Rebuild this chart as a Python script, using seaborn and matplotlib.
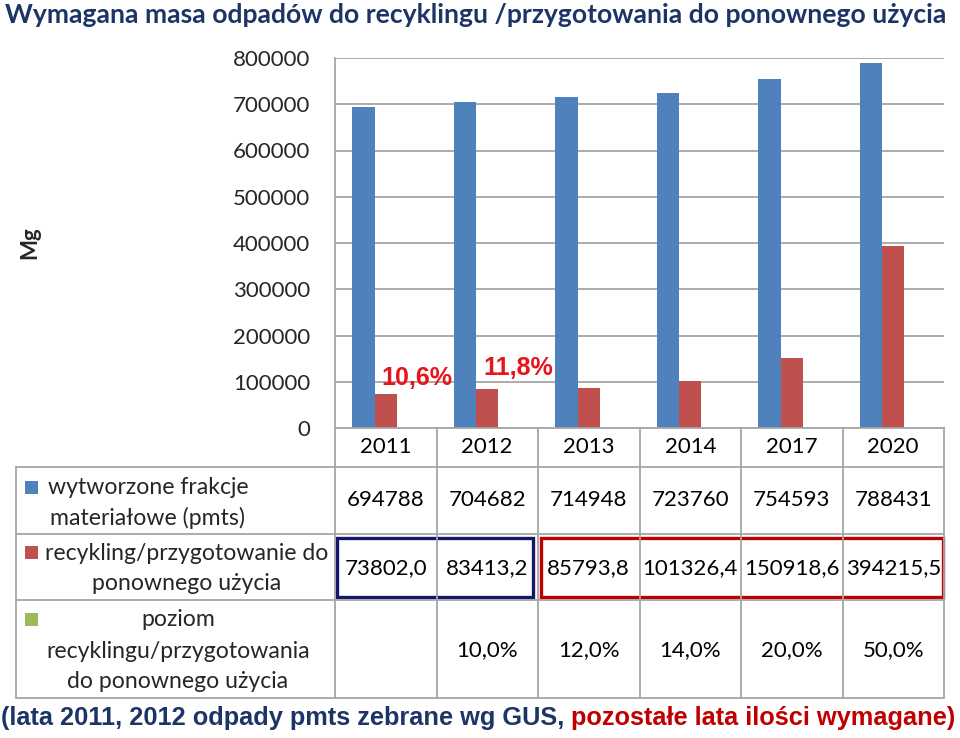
import matplotlib
matplotlib.use('Agg')
import matplotlib.pyplot as plt
import matplotlib.transforms as mtransforms
from matplotlib.lines import Line2D
from matplotlib.patches import Rectangle
import seaborn as sns
import pandas as pd
import numpy as np

# ---------------- data ----------------
years = ['2011', '2012', '2013', '2014', '2017', '2020']
pmts = [694788, 704682, 714948, 723760, 754593, 788431]
recykling = [73802.0, 83413.2, 85793.8, 101326.4, 150918.6, 394215.5]
poziom = [np.nan, 0.10, 0.12, 0.14, 0.20, 0.50]
series_names = ['wytworzone frakcje materiałowe (pmts)',
                'recykling/przygotowanie do ponownego użycia',
                'poziom recyklingu/przygotowania do ponownego użycia']
legend_lines = [['wytworzone frakcje', 'materiałowe (pmts)'],
                ['recykling/przygotowanie do', 'ponownego użycia'],
                ['poziom', 'recyklingu/przygotowania', 'do ponownego użycia']]
yticks = [0, 100000, 200000, 300000, 400000, 500000, 600000, 700000, 800000]
title = 'Wymagana masa odpadów do recyklingu /przygotowania do ponownego użycia'
ylabel = 'Mg'
footer_a = '(lata 2011, 2012 odpady pmts zebrane wg GUS, '
footer_b = 'pozostałe lata ilości wymagane)'

colors = ['#4F81BD', '#C0504D', '#9BBB59']
NAVY = '#1C3566'
GRID = '#A6A6A6'

df = pd.DataFrame({
    'year': years * 3,
    'series': [series_names[0]] * 6 + [series_names[1]] * 6 + [series_names[2]] * 6,
    'value': pmts + recykling + [0 if np.isnan(v) else v for v in poziom],
})

sns.set_style('white')
plt.rcParams['font.family'] = ['Lato', 'DejaVu Sans']

W, H = 960, 738
fig = plt.figure(figsize=(W / 100, H / 100), dpi=100)

def fx(x):
    return x / W

def fy(y):
    return 1 - y / H

ax = fig.add_axes([fx(335), fy(428), (944 - 335) / W, (428 - 58) / H])
sns.barplot(data=df, x='year', y='value', hue='series', hue_order=series_names,
            palette=colors, width=0.665, saturation=1, errorbar=None,
            legend=False, ax=ax, linewidth=0, gap=0)
ax.set_xlim(-0.5, 5.5)
ax.set_ylim(0, 800000)
ax.set_yticks(yticks)
ax.set_yticklabels([str(v) for v in yticks], fontsize=16)
ax.tick_params(axis='y', length=0, pad=18)
ax.set_xticks([])
ax.set_xlabel('')
ax.set_ylabel('')
ax.yaxis.grid(True, color=GRID, lw=1.3)
ax.set_axisbelow(True)
for s in ['top', 'right']:
    ax.spines[s].set_visible(False)
for s in ['left', 'bottom']:
    ax.spines[s].set_color(GRID)
    ax.spines[s].set_linewidth(1.3)

# annotations of achieved level in 2011, 2012
ratios = [recykling[i] / pmts[i] * 100 for i in range(2)]
annot_pos = [(0.31, 108000), (1.31, 130000)]
for r, (xp, yp) in zip(ratios, annot_pos):
    ax.text(xp, yp, f'{r:.1f}%'.replace('.', ','), color='#E8141C',
            fontsize=18, fontweight='bold', ha='center', va='center',
            family=['Liberation Sans', 'DejaVu Sans'])

# ---------------- data table ----------------
bt = mtransforms.blended_transform_factory(ax.transData, fig.transFigure)

def fmt_int(v):
    return f'{v:d}'

def fmt_dec(v):
    return f'{v:.1f}'.replace('.', ',')

def fmt_pct(v):
    return '' if np.isnan(v) else f'{v * 100:.1f}%'.replace('.', ',')

rows = [
    (447, years),
    (500, [fmt_int(v) for v in pmts]),
    (568, [fmt_dec(v) for v in recykling]),
    (650, [fmt_pct(v) for v in poziom]),
]
for yy, labels in rows:
    for i, lab in enumerate(labels):
        fig.text(i, fy(yy), lab, transform=bt, ha='center', va='center',
                 fontsize=16, color='black')

# grid of the table
for k in range(7):
    xk = -0.5 + k
    fig.add_artist(Line2D([xk, xk], [fy(428), fy(698)], transform=bt,
                          color=GRID, lw=1.3))
for yy in [467, 534, 600, 698]:
    fig.add_artist(Line2D([fx(16), fx(944)], [fy(yy), fy(yy)],
                          transform=fig.transFigure, color=GRID, lw=1.3))
fig.add_artist(Line2D([fx(16), fx(16)], [fy(467), fy(698)],
                      transform=fig.transFigure, color=GRID, lw=1.3))

# highlight boxes
fig.add_artist(Rectangle((-0.48, fy(597)), 1.93, (597 - 538) / H, transform=bt,
                         fill=False, edgecolor='#16166B', lw=2.4))
fig.add_artist(Rectangle((1.53, fy(597)), 3.96, (597 - 538) / H, transform=bt,
                         fill=False, edgecolor='#C00000', lw=2.4))

# legend column
legend_rows = [([488, 518], 148), ([553, 583], 187), ([620, 652, 681], 178)]
for ci, (lines, (ys, xc)) in enumerate(zip(legend_lines, legend_rows)):
    for line, yy in zip(lines, ys):
        fig.text(fx(xc), fy(yy), line, ha='center', va='center', fontsize=16.6)
    fig.add_artist(Rectangle((fx(25), fy(ys[0] + 6)), 13 / W, 13 / H,
                             transform=fig.transFigure, facecolor=colors[ci],
                             edgecolor='none'))

# title, y label, footer
t = fig.text(fx(5), fy(15), title, ha='left', va='center', fontsize=20,
             fontweight='bold', color=NAVY)
fig.text(fx(30), fy(243), ylabel, ha='center', va='center', fontsize=16,
         fontweight='bold', rotation=90)

fa = fig.text(fx(1), fy(718), footer_a, ha='left', va='center', fontsize=16.5,
              fontweight='bold', color=NAVY, family=['Liberation Sans', 'DejaVu Sans'])
fb = fig.text(0.5, fy(718), footer_b, ha='left', va='center', fontsize=16.5,
              fontweight='bold', color='#C00000', family=['Liberation Sans', 'DejaVu Sans'])

fig.canvas.draw()
r = fig.canvas.get_renderer()
# fit title into 5..945 px
tw = t.get_window_extent(r).width
t.set_fontsize(20 * 940 / tw)
# fit footer into 1..955 px
wa = fa.get_window_extent(r).width
wb = fb.get_window_extent(r).width
fs = 16.5 * 954 / (wa + wb)
fa.set_fontsize(fs)
fb.set_fontsize(fs)
fig.canvas.draw()
bb = fa.get_window_extent(r)
fb.set_x(bb.x1 / W)

fig.savefig('out.png', dpi=100)
